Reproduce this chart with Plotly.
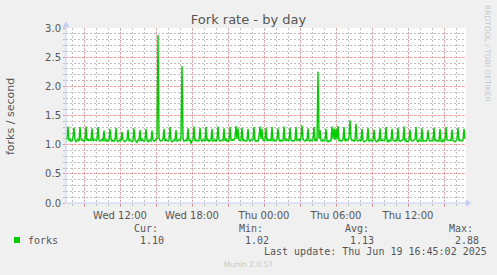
import pandas as pd
import plotly.graph_objects as go

# ---- data (5-minute samples, Wed 07:30 -> Thu 16:45) ----
start_time = "2025-06-18 07:30"
n_samples = 400
forks = [
    1.08, 1.10, 1.31, 1.07, 1.09, 1.06,
    1.07, 1.12, 1.29, 1.08, 1.05, 1.09,
    1.10, 1.06, 1.30, 1.09, 1.07, 1.08,
    1.06, 1.08, 1.31, 1.07, 1.10, 1.07,
    1.08, 1.07, 1.28, 1.06, 1.09, 1.08,
    1.07, 1.09, 1.30, 1.08, 1.06, 1.07,
    1.09, 1.06, 1.24, 1.07, 1.08, 1.05,
    1.08, 1.07, 1.27, 1.09, 1.06, 1.08,
    1.06, 1.08, 1.29, 1.07, 1.05, 1.07,
    1.08, 1.06, 1.22, 1.08, 1.07, 1.05,
    1.07, 1.09, 1.26, 1.06, 1.08, 1.07,
    1.05, 1.07, 1.28, 1.08, 1.06, 1.04,
    1.08, 1.07, 1.25, 1.06, 1.09, 1.07,
    1.06, 1.08, 1.27, 1.07, 1.05, 1.08,
    1.07, 1.06, 1.24, 1.08, 1.06, 1.07,
    1.08, 1.10, 2.88, 1.12, 1.07, 1.06,
    1.07, 1.09, 1.27, 1.06, 1.08, 1.07,
    1.06, 1.08, 1.30, 1.07, 1.05, 1.06,
    1.08, 1.07, 1.25, 1.06, 1.07, 1.08,
    1.07, 1.12, 2.35, 1.09, 1.06, 1.07,
    1.08, 1.06, 1.28, 1.07, 1.09, 1.02,
    1.07, 1.08, 1.31, 1.06, 1.08, 1.07,
    1.06, 1.07, 1.29, 1.08, 1.06, 1.08,
    1.08, 1.06, 1.30, 1.07, 1.09, 1.06,
    1.07, 1.08, 1.27, 1.06, 1.07, 1.08,
    1.06, 1.09, 1.31, 1.08, 1.06, 1.07,
    1.08, 1.07, 1.28, 1.07, 1.10, 1.06,
    1.07, 1.06, 1.30, 1.08, 1.07, 1.09,
    1.08, 1.12, 1.32, 1.10, 1.28, 1.08,
    1.07, 1.08, 1.29, 1.06, 1.08, 1.07,
    1.06, 1.07, 1.27, 1.08, 1.06, 1.08,
    1.08, 1.09, 1.30, 1.07, 1.06, 1.07,
    1.06, 1.14, 1.31, 1.10, 1.27, 1.08,
    1.07, 1.08, 1.29, 1.06, 1.09, 1.07,
    1.08, 1.06, 1.30, 1.07, 1.08, 1.06,
    1.07, 1.09, 1.28, 1.08, 1.06, 1.08,
    1.06, 1.07, 1.31, 1.07, 1.09, 1.07,
    1.08, 1.06, 1.29, 1.08, 1.07, 1.06,
    1.07, 1.08, 1.30, 1.06, 1.08, 1.09,
    1.06, 1.12, 1.33, 1.09, 1.07, 1.06,
    1.08, 1.07, 1.28, 1.07, 1.06, 1.08,
    1.07, 1.09, 1.30, 1.06, 1.08, 1.07,
    2.25, 1.10, 1.25, 1.07, 1.06, 1.08,
    1.07, 1.08, 1.27, 1.06, 1.05, 1.07,
    1.06, 1.07, 1.31, 1.10, 1.28, 1.08,
    1.27, 1.09, 1.32, 1.07, 1.08, 1.06,
    1.07, 1.08, 1.30, 1.06, 1.09, 1.07,
    1.08, 1.12, 1.42, 1.10, 1.07, 1.08,
    1.06, 1.07, 1.36, 1.08, 1.06, 1.07,
    1.08, 1.06, 1.27, 1.07, 1.05, 1.06,
    1.07, 1.08, 1.29, 1.06, 1.07, 1.08,
    1.06, 1.07, 1.26, 1.08, 1.06, 1.05,
    1.08, 1.06, 1.28, 1.07, 1.08, 1.07,
    1.07, 1.09, 1.30, 1.06, 1.05, 1.08,
    1.06, 1.07, 1.27, 1.08, 1.07, 1.06,
    1.08, 1.06, 1.29, 1.07, 1.06, 1.07,
    1.07, 1.08, 1.31, 1.06, 1.08, 1.05,
    1.06, 1.07, 1.26, 1.08, 1.06, 1.07,
    1.08, 1.09, 1.30, 1.07, 1.05, 1.08,
    1.07, 1.06, 1.28, 1.06, 1.07, 1.06,
    1.06, 1.08, 1.25, 1.08, 1.06, 1.07,
    1.08, 1.07, 1.29, 1.07, 1.08, 1.06,
    1.07, 1.06, 1.27, 1.06, 1.05, 1.08,
    1.06, 1.08, 1.30, 1.08, 1.07, 1.07,
    1.08, 1.07, 1.26, 1.07, 1.06, 1.05,
    1.07, 1.09, 1.29, 1.06, 1.08, 1.07,
    1.06, 1.08, 1.27, 1.10,
]
x_tick_vals = ["2025-06-18 09:00", "2025-06-18 12:00", "2025-06-18 15:00",
               "2025-06-18 18:00", "2025-06-18 21:00", "2025-06-19 00:00",
               "2025-06-19 03:00", "2025-06-19 06:00", "2025-06-19 09:00",
               "2025-06-19 12:00", "2025-06-19 15:00"]
x_tick_text = ["", "Wed 12:00", "", "Wed 18:00", "", "Thu 00:00",
               "", "Thu 06:00", "", "Thu 12:00", ""]
y_tick_vals = [0.0, 0.5, 1.0, 1.5, 2.0, 2.5, 3.0]
legend_name = "forks"
stat_labels = ["Cur:", "Min:", "Avg:", "Max:"]
stat_values = ["1.10", "1.02", "1.13", "2.88"]

times = pd.date_range(start_time, periods=n_samples, freq="5min")

# ---- layout geometry (pixels) ----
W, H = 497, 275
L, R, T, B = 66, 31, 28, 72
PW, PH = W - L - R, H - T - B


def px(xp):
    return (xp - L) / PW


def py(yp):
    return (H - B - yp) / PH


MAJOR = "rgba(240,120,120,0.6)"
MINOR = "rgba(185,185,185,0.9)"
AXIS = "#c4ccf2"
TXT = "#555555"
MONO = "DejaVu Sans Mono"
SANS = "DejaVu Sans"

fig = go.Figure()
fig.add_trace(go.Scatter(x=times, y=forks, mode="lines",
                         line=dict(color="#00cc00", width=1.4),
                         name=legend_name, showlegend=False,
                         hoverinfo="skip"))

fig.update_layout(
    width=W, height=H,
    margin=dict(l=L, r=R, t=T, b=B),
    paper_bgcolor="#f0f0f0", plot_bgcolor="#ffffff",
    title=dict(text="Fork rate - by day", x=0.5, xref="container",
               y=1 - 19 / H, yref="container", xanchor="center",
               yanchor="middle", font=dict(family=SANS, size=13, color=TXT)),
    xaxis=dict(range=["2025-06-18 07:30", "2025-06-19 16:50"],
               tickvals=x_tick_vals, ticktext=x_tick_text,
               showgrid=True, gridcolor=MAJOR, griddash="1px,1px",
               gridwidth=1,
               ticks="outside", ticklen=3, tickcolor=MAJOR,
               tickfont=dict(family=SANS, size=10, color=TXT),
               zeroline=False, showline=False,
               minor=dict(dtick=3600000, tick0="2025-06-18 00:00",
                          showgrid=True, gridcolor=MINOR,
                          griddash="2px,2px",
                          ticks="outside", ticklen=2, tickcolor=MINOR)),
    yaxis=dict(range=[0, 3], tickvals=y_tick_vals, tickformat=".1f",
               showgrid=True, gridcolor=MAJOR, griddash="1px,1px",
               gridwidth=1,
               ticks="outside", ticklen=2, tickcolor=MAJOR,
               tickfont=dict(family=SANS, size=10, color=TXT),
               zeroline=False, showline=False,
               minor=dict(dtick=0.1, showgrid=True, gridcolor=MINOR,
                          griddash="2px,2px", ticks="outside", ticklen=2,
                          tickcolor=MINOR)),
)

shapes = [
    # axes lines
    dict(type="line", xref="paper", yref="paper", x0=0, x1=px(468),
         y0=0, y1=0, line=dict(color=AXIS, width=1)),
    dict(type="line", xref="paper", yref="paper", x0=0, x1=0,
         y0=0, y1=py(25), line=dict(color=AXIS, width=1)),
    # arrow heads
    dict(type="path", xref="paper", yref="paper", xsizemode="pixel",
         ysizemode="pixel", xanchor=px(466), yanchor=0,
         path="M 0 -3 L 5 0 L 0 3 Z", fillcolor=AXIS,
         line=dict(color=AXIS, width=0.5)),
    dict(type="path", xref="paper", yref="paper", xsizemode="pixel",
         ysizemode="pixel", xanchor=0, yanchor=py(27),
         path="M -3 0 L 0 5 L 3 0 Z", fillcolor=AXIS,
         line=dict(color=AXIS, width=0.5)),
    # legend square
    dict(type="rect", xref="paper", yref="paper", x0=px(14), x1=px(20),
         y0=py(243), y1=py(237), fillcolor="#00cc00", line=dict(width=0)),
]
fig.update_layout(shapes=shapes)

ann = []
ann.append(dict(text="forks / second", x=px(10), y=py(116), xref="paper",
                yref="paper", textangle=-90, showarrow=False,
                font=dict(family=SANS, size=11, color=TXT),
                xanchor="center", yanchor="middle"))
ann.append(dict(text="RRDTOOL / TOBI OETIKER", x=px(488), y=py(53),
                xref="paper", yref="paper", textangle=90, showarrow=False,
                font=dict(family=SANS, size=7.5, color="#c8c8c8"),
                xanchor="center", yanchor="middle"))
ann.append(dict(text=legend_name, x=px(26), y=py(240), xref="paper",
                yref="paper", showarrow=False, xanchor="left",
                yanchor="middle", font=dict(family=MONO, size=10, color=TXT)))
label_x = [132, 237, 343, 447]
value_x = [138, 243, 348, 453]
for lx, vx, lab, val in zip(label_x, value_x, stat_labels, stat_values):
    ann.append(dict(text=lab, x=px(lx), y=py(228.5), xref="paper",
                    yref="paper", showarrow=False, xanchor="left",
                    yanchor="middle",
                    font=dict(family=MONO, size=10, color=TXT)))
    ann.append(dict(text=val, x=px(vx), y=py(240), xref="paper",
                    yref="paper", showarrow=False, xanchor="left",
                    yanchor="middle",
                    font=dict(family=MONO, size=10, color=TXT)))
ann.append(dict(text="Last update: Thu Jun 19 16:45:02 2025", x=px(262),
                y=py(251), xref="paper", yref="paper", showarrow=False,
                xanchor="left", yanchor="middle",
                font=dict(family=MONO, size=10, color=TXT)))
ann.append(dict(text="Munin 2.0.57", x=px(248), y=py(264), xref="paper",
                yref="paper", showarrow=False, xanchor="center",
                yanchor="middle",
                font=dict(family=SANS, size=7.5, color="#c8c8c8")))
fig.update_layout(annotations=ann)

fig.write_html("out.html")
